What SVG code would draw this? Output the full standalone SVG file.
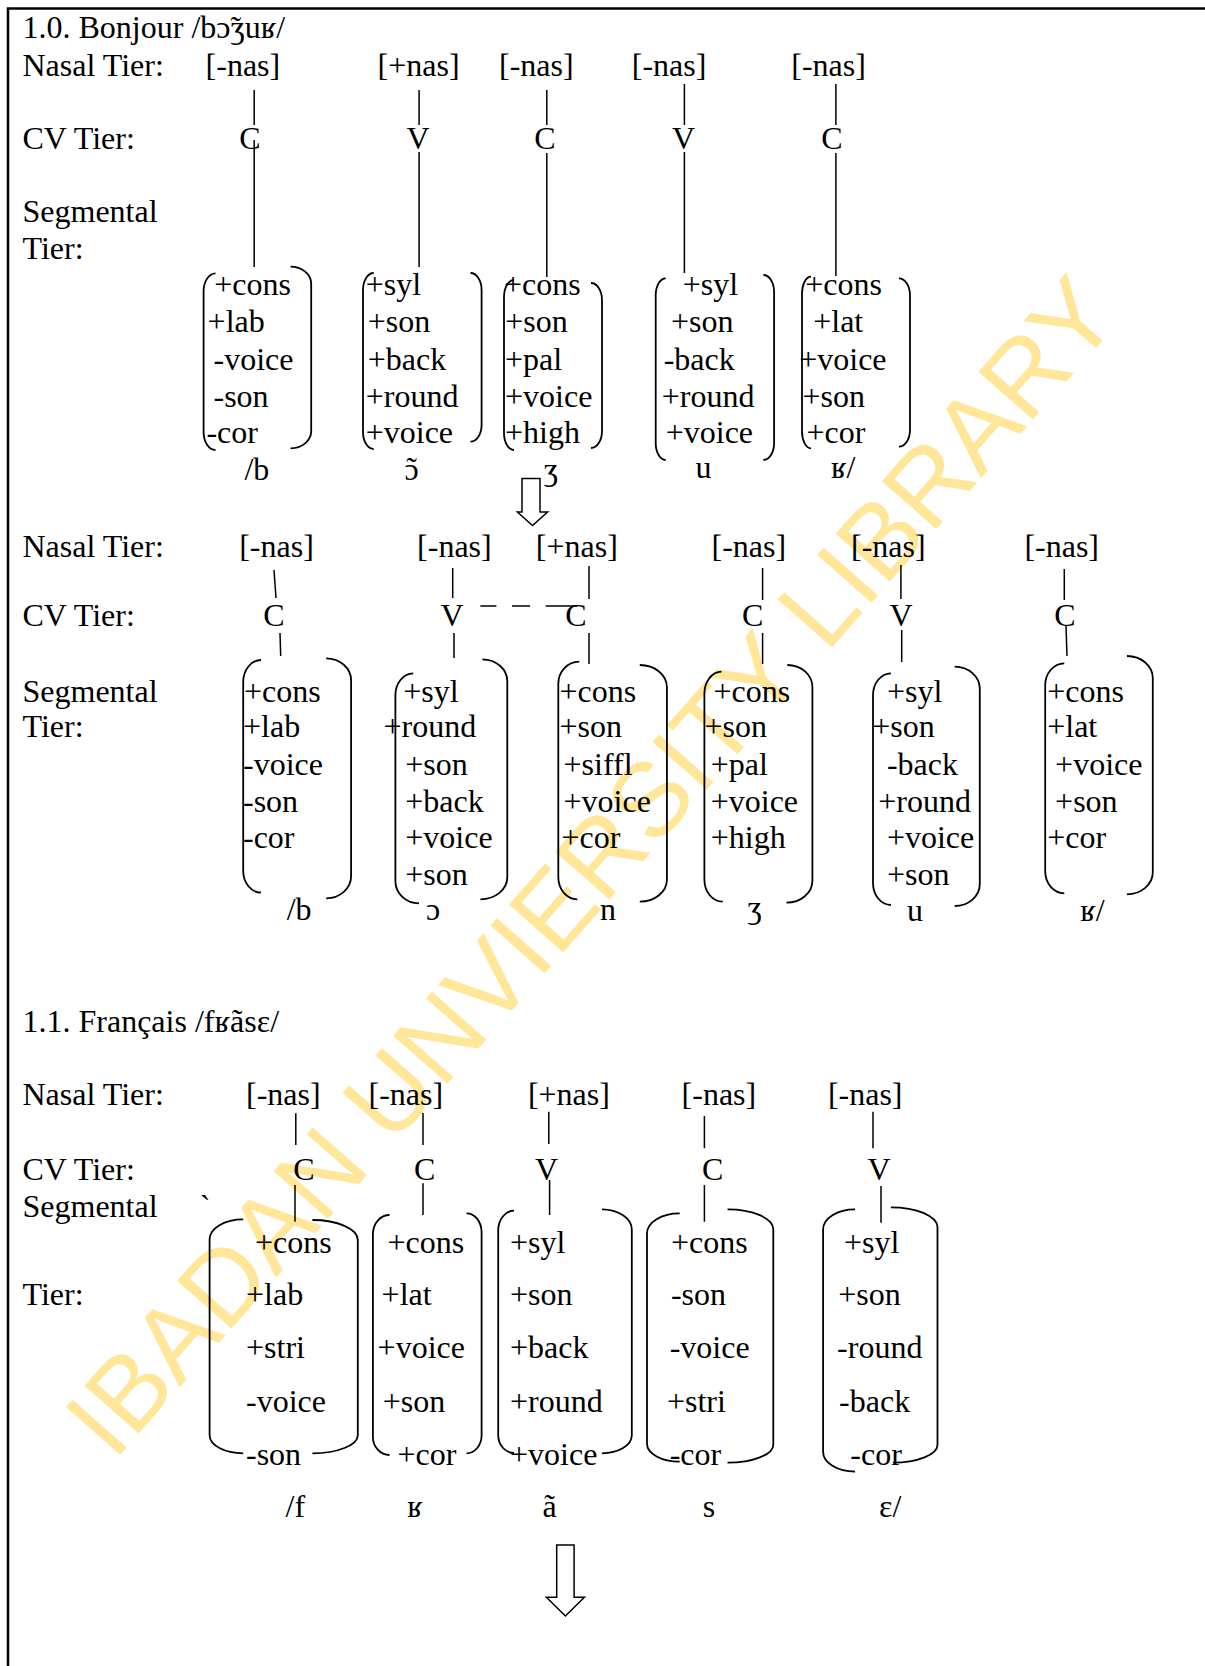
<svg xmlns="http://www.w3.org/2000/svg" width="1205" height="1666" viewBox="0 0 1205 1666">
<style>
.t{font-family:"Liberation Serif","Times New Roman","DejaVu Serif",serif;font-size:32px;fill:#000}
.m{text-anchor:middle}
.br{fill:none;stroke:#000;stroke-width:1.8}
.ln{fill:none;stroke:#000;stroke-width:1.5}
.ar{fill:#fff;stroke:#000;stroke-width:1.5;stroke-linejoin:miter}
.wm{font-family:"Liberation Sans",Arial,sans-serif;font-size:105px;fill:#FFE699}
</style>
<rect x="0" y="0" width="1205" height="1666" fill="#fff"/>
<text class="wm" x="0" y="0" text-anchor="middle" transform="translate(618,890) rotate(-48.6)">IBADAN UNVIERSITY LIBRARY</text>
<g id="frame"><path d="M8,1666 V8.5 H1205" fill="none" stroke="#000" stroke-width="2.5"/></g>

<g id="section1-labels">
<text class="t" x="22.5" y="37.5">1.0. Bonjour /bɔ̃ʒuʁ/</text>
<text class="t" x="22.5" y="76">Nasal Tier:</text>
<text class="t" x="22.5" y="148.5">CV Tier:</text>
<text class="t" x="22.5" y="221.5">Segmental</text>
<text class="t" x="22.5" y="258.5">Tier:</text>
</g>

<g id="s1-b">
<text class="t" x="205.6" y="76">[-nas]</text>
<text class="t m" x="250" y="148.5">C</text>
<path class="br" d="M215.5,273.3 A12 18 0 0 0 203.6,291.3 V432 A12 18 0 0 0 215.5,450"/>
<path class="br" d="M290.6,266.7 A20.6 17 0 0 1 311.2,283.7 V431.3 A20.6 17 0 0 1 290.6,448.3"/>
<text class="t"><tspan x="214.3" y="295">+cons</tspan><tspan x="207.6" y="331.7">+lab</tspan><tspan x="213.5" y="370">-voice</tspan><tspan x="213.5" y="406.7">-son</tspan><tspan x="206.4" y="442.7">-cor</tspan></text>
<text class="t" x="244.4" y="480">/b</text>
</g>
<g id="s1-o">
<text class="t" x="377.6" y="76">[+nas]</text>
<text class="t m" x="418" y="148.5">V</text>
<path class="br" d="M373.7,273 A10.7 17 0 0 0 363,290 V432 A10.7 17 0 0 0 373.7,449"/>
<path class="br" d="M470.5,273 A11.1 17 0 0 1 481.6,290 V424.7 A11.1 17 0 0 1 470.5,441.7"/>
<text class="t"><tspan x="365.7" y="295">+syl</tspan><tspan x="367.7" y="331.7">+son</tspan><tspan x="367.7" y="370">+back</tspan><tspan x="365.7" y="406.7">+round</tspan><tspan x="365.7" y="442.7">+voice</tspan></text>
<text class="t" x="404.5" y="480">ɔ</text>
<text class="t m" x="411.5" y="479">˜</text>
</g>
<g id="s1-zh">
<text class="t" x="499" y="76">[-nas]</text>
<text class="t m" x="545" y="148.5">C</text>
<path class="br" d="M514,280 A10 17 0 0 0 504,297 V433 A10 17 0 0 0 514,450"/>
<path class="br" d="M591,283 A11 17 0 0 1 602,300 V431 A11 17 0 0 1 591,448"/>
<text class="t"><tspan x="504" y="295">+cons</tspan><tspan x="505.3" y="331.7">+son</tspan><tspan x="505" y="370">+pal</tspan><tspan x="505" y="406.7">+voice</tspan><tspan x="505" y="442.7">+high</tspan></text>
<text class="t" x="543.7" y="480">ʒ</text>
</g>
<g id="s1-u">
<text class="t" x="631.8" y="76">[-nas]</text>
<text class="t m" x="683.6" y="148.5">V</text>
<path class="br" d="M665.7,278.3 A10 17 0 0 0 655.7,295.3 V443 A10 17 0 0 0 665.7,460"/>
<path class="br" d="M763.4,275 A10.7 17 0 0 1 774.1,292 V443 A10.7 17 0 0 1 763.4,460"/>
<text class="t"><tspan x="682.8" y="295">+syl</tspan><tspan x="670.9" y="331.7">+son</tspan><tspan x="663.7" y="370">-back</tspan><tspan x="661.7" y="406.7">+round</tspan><tspan x="665.7" y="442.7">+voice</tspan></text>
<text class="t" x="695.6" y="478">u</text>
</g>
<g id="s1-r">
<text class="t" x="791.3" y="76">[-nas]</text>
<text class="t m" x="832" y="148.5">C</text>
<path class="br" d="M811,276.7 A9 17 0 0 0 802,293.7 V431.3 A9 17 0 0 0 811,448.3"/>
<path class="br" d="M898.9,278.3 A11.1 17 0 0 1 910,295.3 V429.7 A11.1 17 0 0 1 898.9,446.7"/>
<text class="t"><tspan x="805.2" y="295">+cons</tspan><tspan x="813.2" y="331.7">+lat</tspan><tspan x="799.2" y="370">+voice</tspan><tspan x="802.4" y="406.7">+son</tspan><tspan x="806.4" y="442.7">+cor</tspan></text>
<text class="t" x="831" y="478">ʁ/</text>
</g>

<g id="section2-labels">
<text class="t" x="22.5" y="556.7">Nasal Tier:</text>
<text class="t" x="22.5" y="626">CV Tier:</text>
<text class="t" x="22.5" y="701.7">Segmental</text>
<text class="t" x="22.5" y="736.7">Tier:</text>
</g>

<g id="s2-b">
<text class="t" x="239.2" y="556.7">[-nas]</text>
<text class="t m" x="274" y="626">C</text>
<path class="br" d="M261,660 A17.8 22 0 0 0 243.2,682 V870.7 A17.8 22 0 0 0 261,892.7"/>
<path class="br" d="M326.2,658.3 A24.9 22 0 0 1 351.1,680.3 V876.3 A24.9 22 0 0 1 326.2,898.3"/>
<text class="t"><tspan x="244" y="701.7">+cons</tspan><tspan x="243" y="736.7">+lab</tspan><tspan x="243" y="775">-voice</tspan><tspan x="243" y="811.7">-son</tspan><tspan x="243" y="847.7">-cor</tspan></text>
<text class="t" x="286.7" y="920">/b</text>
</g>
<g id="s2-o">
<text class="t" x="417.1" y="556.7">[-nas]</text>
<text class="t m" x="452" y="626">V</text>
<path class="br" d="M413.2,673.3 A17.8 22 0 0 0 395.4,695.3 V881.3 A23.6 22 0 0 0 419,903.3"/>
<path class="br" d="M482.4,659.3 A24.9 22 0 0 1 507.3,681.3 V877.3 A26.9 22 0 0 1 480.4,899.3"/>
<text class="t"><tspan x="403.3" y="701.7">+syl</tspan><tspan x="383.5" y="736.7">+round</tspan><tspan x="405.3" y="775">+son</tspan><tspan x="405.3" y="811.7">+back</tspan><tspan x="405.3" y="847.7">+voice</tspan><tspan x="405.3" y="885">+son</tspan></text>
<text class="t" x="426" y="920">ɔ</text>
</g>
<g id="s2-n">
<text class="t" x="535.8" y="556.7">[+nas]</text>
<text class="t m" x="576" y="626">C</text>
<path class="br" d="M579.3,661.7 A21 22 0 0 0 558.3,683.7 V877.3 A19 22 0 0 0 577.3,899.3"/>
<path class="br" d="M639.8,665 A27.1 22 0 0 1 666.9,687 V879.7 A27.1 22 0 0 1 639.8,901.7"/>
<text class="t"><tspan x="559.5" y="701.7">+cons</tspan><tspan x="559.5" y="736.7">+son</tspan><tspan x="563.5" y="775">+siffl</tspan><tspan x="563.5" y="811.7">+voice</tspan><tspan x="561.5" y="847.7">+cor</tspan></text>
<text class="t" x="600" y="920">n</text>
</g>
<g id="s2-zh">
<text class="t" x="711.5" y="556.7">[-nas]</text>
<text class="t m" x="752.7" y="626">C</text>
<path class="br" d="M721.5,671.7 A17.1 22 0 0 0 704.4,693.7 V879.7 A18.3 22 0 0 0 722.7,901.7"/>
<path class="br" d="M787.3,665 A25.1 22 0 0 1 812.4,687 V880.7 A25.9 22 0 0 1 786.5,902.7"/>
<text class="t"><tspan x="713.5" y="701.7">+cons</tspan><tspan x="704.4" y="736.7">+son</tspan><tspan x="710.7" y="775">+pal</tspan><tspan x="710.7" y="811.7">+voice</tspan><tspan x="710.7" y="847.7">+high</tspan></text>
<text class="t" x="747.4" y="918">ʒ</text>
</g>
<g id="s2-u">
<text class="t" x="851" y="556.7">[-nas]</text>
<text class="t m" x="901" y="626">V</text>
<path class="br" d="M890.9,673.3 A17.9 22 0 0 0 873,695.3 V883 A17.9 22 0 0 0 890.9,905"/>
<path class="br" d="M954.7,666.7 A25.1 22 0 0 1 979.8,688.7 V884 A25.1 22 0 0 1 954.7,906"/>
<text class="t"><tspan x="886.9" y="701.7">+syl</tspan><tspan x="872.2" y="736.7">+son</tspan><tspan x="886.9" y="775">-back</tspan><tspan x="878.2" y="811.7">+round</tspan><tspan x="886.9" y="847.7">+voice</tspan><tspan x="886.9" y="885">+son</tspan></text>
<text class="t" x="906.9" y="921">u</text>
</g>
<g id="s2-r">
<text class="t" x="1024.4" y="556.7">[-nas]</text>
<text class="t m" x="1065" y="626">C</text>
<path class="br" d="M1064.3,663.3 A19.1 22 0 0 0 1045.2,685.3 V871.3 A19.1 22 0 0 0 1064.3,893.3"/>
<path class="br" d="M1126.9,656 A25.9 22 0 0 1 1152.8,678 V872.3 A25.9 22 0 0 1 1126.9,894.3"/>
<text class="t"><tspan x="1047.2" y="701.7">+cons</tspan><tspan x="1047.2" y="736.7">+lat</tspan><tspan x="1055.1" y="775">+voice</tspan><tspan x="1055.1" y="811.7">+son</tspan><tspan x="1047.2" y="847.7">+cor</tspan></text>
<text class="t" x="1080.2" y="921">ʁ/</text>
</g>

<g id="section3-labels">
<text class="t" x="22.5" y="1032.3">1.1. Français /fʁãsɛ/</text>
<text class="t" x="22.5" y="1105">Nasal Tier:</text>
<text class="t" x="22.5" y="1180">CV Tier:</text>
<text class="t" x="22.5" y="1216.7">Segmental</text>
<text class="t" x="199.7" y="1217">`</text>
<text class="t" x="22.5" y="1305">Tier:</text>
</g>

<g id="s3-f">
<text class="t" x="246" y="1105">[-nas]</text>
<text class="t m" x="303.9" y="1180">C</text>
<path class="br" d="M243.2,1219.3 A33.6 20 0 0 0 209.6,1239.3 V1435.3 A33.6 18 0 0 0 243.2,1453.3"/>
<path class="br" d="M312.4,1220 A45.4 20 0 0 1 357.8,1240 V1435.3 A45.4 18 0 0 1 312.4,1453.3"/>
<text class="t"><tspan x="255" y="1253.3">+cons</tspan><tspan x="246" y="1305">+lab</tspan><tspan x="246" y="1358.3">+stri</tspan><tspan x="246" y="1411.7">-voice</tspan><tspan x="246" y="1465">-son</tspan></text>
<text class="t" x="285.5" y="1517.3">/f</text>
</g>
<g id="s3-r">
<text class="t" x="368.5" y="1105">[-nas]</text>
<text class="t m" x="424.7" y="1180">C</text>
<path class="br" d="M389.5,1215 A16.6 19 0 0 0 372.9,1234 V1437 A16.6 18 0 0 0 389.5,1455"/>
<path class="br" d="M466.6,1213.3 A15 19 0 0 1 481.6,1232.3 V1435.3 A15 18 0 0 1 466.6,1453.3"/>
<text class="t"><tspan x="387.5" y="1253.3">+cons</tspan><tspan x="381.6" y="1305">+lat</tspan><tspan x="377.6" y="1358.3">+voice</tspan><tspan x="382.7" y="1411.7">+son</tspan><tspan x="397.4" y="1465">+cor</tspan></text>
<text class="t" x="407.3" y="1517.3">ʁ</text>
</g>
<g id="s3-a">
<text class="t" x="527.9" y="1105">[+nas]</text>
<text class="t m" x="546.6" y="1180">V</text>
<path class="br" d="M514,1210.7 A15.8 20 0 0 0 498.2,1230.7 V1435 A15.8 18 0 0 0 514,1453"/>
<path class="br" d="M601.9,1209.3 A29.9 20 0 0 1 631.8,1229.3 V1435.3 A29.9 18 0 0 1 601.9,1453.3"/>
<text class="t"><tspan x="510" y="1253.3">+syl</tspan><tspan x="510" y="1305">+son</tspan><tspan x="510" y="1358.3">+back</tspan><tspan x="510" y="1411.7">+round</tspan><tspan x="510" y="1465">+voice</tspan></text>
<text class="t" x="542.5" y="1517.3">ã</text>
</g>
<g id="s3-s">
<text class="t" x="681.6" y="1105">[-nas]</text>
<text class="t m" x="712.7" y="1180">C</text>
<path class="br" d="M679.7,1213.3 A32.7 20 0 0 0 647,1233.3 V1443.7 A32.7 18 0 0 0 679.7,1461.7"/>
<path class="br" d="M727.5,1209.3 A45.8 20 0 0 1 773.3,1229.3 V1444.7 A45.8 18 0 0 1 727.5,1462.7"/>
<text class="t"><tspan x="670.9" y="1253.3">+cons</tspan><tspan x="670.9" y="1305">-son</tspan><tspan x="669.7" y="1358.3">-voice</tspan><tspan x="666.9" y="1411.7">+stri</tspan><tspan x="669.7" y="1465">-cor</tspan></text>
<text class="t" x="702.8" y="1517.3">s</text>
</g>
<g id="s3-e">
<text class="t" x="827.9" y="1105">[-nas]</text>
<text class="t m" x="879" y="1180">V</text>
<path class="br" d="M855,1209.3 A31.9 20 0 0 0 823.1,1229.3 V1451.7 A31.9 20 0 0 0 855,1471.7"/>
<path class="br" d="M890.9,1207.3 A46.6 20 0 0 1 937.5,1227.3 V1444.7 A44.6 18 0 0 1 892.9,1462.7"/>
<text class="t"><tspan x="843.9" y="1253.3">+syl</tspan><tspan x="838.3" y="1305">+son</tspan><tspan x="837.1" y="1358.3">-round</tspan><tspan x="839.1" y="1411.7">-back</tspan><tspan x="850.3" y="1465">-cor</tspan></text>
<text class="t" x="879" y="1517.3">ɛ/</text>
</g>

<g id="connectors">
<path class="ln" d="M254.2,90 V125 M254.2,140 V267 M419.1,90 V125 M419.1,152 V267 M546.8,90 V125 M546.8,153 V277 M684.4,84 V125 M684.4,152 V273 M835.9,84 V125 M835.9,153 V276"/>
<path class="ln" d="M274,570 L276,598 M280,633 L280.7,656 M452.7,568 V598 M454,633 V658 M589,566 V599 M589,633 V664 M762.6,568 V600 M762.6,633 V664 M900.9,565 V599 M901.7,630 V662 M1064.3,569 V600 M1066,626 L1067,656"/>
<path class="ln" d="M480.4,606 H496.4 M512,606 H530 M545.6,606 H577.3"/>
<path class="ln" d="M295.8,1113.3 V1145 M295,1185 V1221.7 M423,1113 V1145 M423,1183.3 V1215 M548.8,1111.7 V1144 M549.6,1180 V1215 M704.4,1116 V1148.3 M704.4,1185 V1221.7 M873,1111.7 V1148.3 M881,1186 V1222.7"/>
<path class="ar" d="M522,478.5 H540 V512 H547.6 L532.5,525.5 L517.4,512 H522 Z"/>
<path class="ar" d="M556.7,1545 H574.1 V1597.3 H584.4 L565.4,1616 L546.4,1597.3 H556.7 Z"/>
</g>
</svg>
